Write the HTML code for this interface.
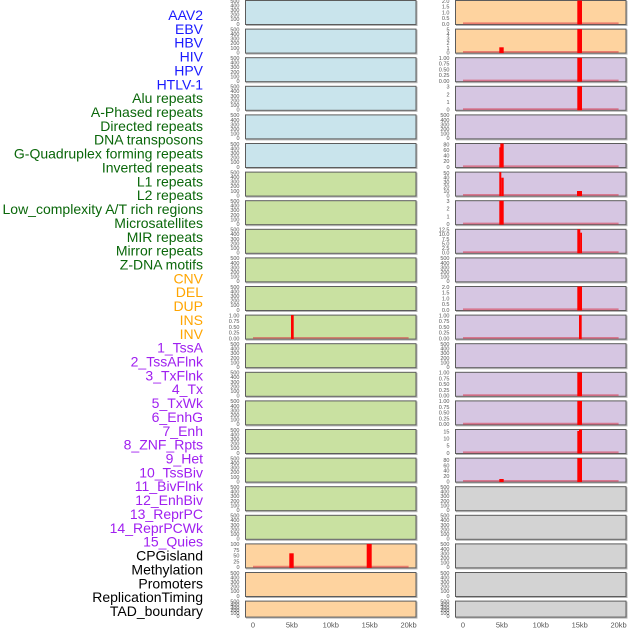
<!DOCTYPE html>
<html><head><meta charset="utf-8"><style>
html,body{margin:0;padding:0;background:#fff;width:630px;height:630px;overflow:hidden}
svg{display:block}
.p text{font-family:"Liberation Sans",sans-serif;font-size:5.5px;fill:#555;text-anchor:end}
.p .s{fill:none;stroke:#b4b4b4;stroke-width:1}
.p .r{stroke:#5c5c5c;stroke-width:1}
.p .bl{stroke:rgba(215,40,60,0.5);stroke-width:1.8;fill:none}
.p .bar{fill:#ff0000}
.lab text{font-family:"Liberation Sans",sans-serif;font-size:14px;text-anchor:end}
.xt text{font-family:"Liberation Sans",sans-serif;font-size:7.5px;fill:#555;text-anchor:middle}
</style></head><body>
<svg width="630" height="630" viewBox="0 0 630 630" xmlns="http://www.w3.org/2000/svg">
<g class="lab">
<text x="203" y="20" fill="#1a1aff">AAV2</text>
<text x="203" y="33.86" fill="#1a1aff">EBV</text>
<text x="203" y="47.72" fill="#1a1aff">HBV</text>
<text x="203" y="61.58" fill="#1a1aff">HIV</text>
<text x="203" y="75.44" fill="#1a1aff">HPV</text>
<text x="203" y="89.3" fill="#1a1aff">HTLV-1</text>
<text x="203" y="103.16" fill="#0a670a">Alu repeats</text>
<text x="203" y="117.02" fill="#0a670a">A-Phased repeats</text>
<text x="203" y="130.88" fill="#0a670a">Directed repeats</text>
<text x="203" y="144.74" fill="#0a670a">DNA transposons</text>
<text x="203" y="158.6" fill="#0a670a">G-Quadruplex forming repeats</text>
<text x="203" y="172.46" fill="#0a670a">Inverted repeats</text>
<text x="203" y="186.32" fill="#0a670a">L1 repeats</text>
<text x="203" y="200.18" fill="#0a670a">L2 repeats</text>
<text x="203" y="214.04" fill="#0a670a">Low_complexity A/T rich regions</text>
<text x="203" y="227.9" fill="#0a670a">Microsatellites</text>
<text x="203" y="241.76" fill="#0a670a">MIR repeats</text>
<text x="203" y="255.62" fill="#0a670a">Mirror repeats</text>
<text x="203" y="269.48" fill="#0a670a">Z-DNA motifs</text>
<text x="203" y="283.34" fill="#ffa500">CNV</text>
<text x="203" y="297.2" fill="#ffa500">DEL</text>
<text x="203" y="311.06" fill="#ffa500">DUP</text>
<text x="203" y="324.92" fill="#ffa500">INS</text>
<text x="203" y="338.78" fill="#ffa500">INV</text>
<text x="203" y="352.64" fill="#a020f0">1_TssA</text>
<text x="203" y="366.5" fill="#a020f0">2_TssAFlnk</text>
<text x="203" y="380.36" fill="#a020f0">3_TxFlnk</text>
<text x="203" y="394.22" fill="#a020f0">4_Tx</text>
<text x="203" y="408.08" fill="#a020f0">5_TxWk</text>
<text x="203" y="421.94" fill="#a020f0">6_EnhG</text>
<text x="203" y="435.8" fill="#a020f0">7_Enh</text>
<text x="203" y="449.66" fill="#a020f0">8_ZNF_Rpts</text>
<text x="203" y="463.52" fill="#a020f0">9_Het</text>
<text x="203" y="477.38" fill="#a020f0">10_TssBiv</text>
<text x="203" y="491.24" fill="#a020f0">11_BivFlnk</text>
<text x="203" y="505.1" fill="#a020f0">12_EnhBiv</text>
<text x="203" y="518.96" fill="#a020f0">13_ReprPC</text>
<text x="203" y="532.82" fill="#a020f0">14_ReprPCWk</text>
<text x="203" y="546.68" fill="#a020f0">15_Quies</text>
<text x="203" y="560.54" fill="#000">CPGisland</text>
<text x="203" y="574.4" fill="#000">Methylation</text>
<text x="203" y="588.26" fill="#000">Promoters</text>
<text x="203" y="602.12" fill="#000">ReplicationTiming</text>
<text x="203" y="615.98" fill="#000">TAD_boundary</text>
</g>

<!-- LEFT COLUMN -->
<g class="p" transform="translate(245,0)"><rect class="s" x="1.5" y="1.5" width="170.5" height="24"/><rect class="r" x="0.5" y="0.5" width="170.5" height="24" fill="#c9e4ec"/><text x="-5.5" y="25.8">0</text><text x="-5.5" y="21.2">100</text><text x="-5.5" y="16.6">200</text><text x="-5.5" y="12">300</text><text x="-5.5" y="7.4">400</text><text x="-5.5" y="2.8">500</text></g>
<g class="p" transform="translate(245,28.6)"><rect class="s" x="1.5" y="1.5" width="170.5" height="24"/><rect class="r" x="0.5" y="0.5" width="170.5" height="24" fill="#c9e4ec"/><text x="-5.5" y="25.8">0</text><text x="-5.5" y="21.2">100</text><text x="-5.5" y="16.6">200</text><text x="-5.5" y="12">300</text><text x="-5.5" y="7.4">400</text><text x="-5.5" y="2.8">500</text></g>
<g class="p" transform="translate(245,57.2)"><rect class="s" x="1.5" y="1.5" width="170.5" height="24"/><rect class="r" x="0.5" y="0.5" width="170.5" height="24" fill="#c9e4ec"/><text x="-5.5" y="25.8">0</text><text x="-5.5" y="21.2">100</text><text x="-5.5" y="16.6">200</text><text x="-5.5" y="12">300</text><text x="-5.5" y="7.4">400</text><text x="-5.5" y="2.8">500</text></g>
<g class="p" transform="translate(245,85.8)"><rect class="s" x="1.5" y="1.5" width="170.5" height="24"/><rect class="r" x="0.5" y="0.5" width="170.5" height="24" fill="#c9e4ec"/><text x="-5.5" y="25.8">0</text><text x="-5.5" y="21.2">100</text><text x="-5.5" y="16.6">200</text><text x="-5.5" y="12">300</text><text x="-5.5" y="7.4">400</text><text x="-5.5" y="2.8">500</text></g>
<g class="p" transform="translate(245,114.4)"><rect class="s" x="1.5" y="1.5" width="170.5" height="24"/><rect class="r" x="0.5" y="0.5" width="170.5" height="24" fill="#c9e4ec"/><text x="-5.5" y="25.8">0</text><text x="-5.5" y="21.2">100</text><text x="-5.5" y="16.6">200</text><text x="-5.5" y="12">300</text><text x="-5.5" y="7.4">400</text><text x="-5.5" y="2.8">500</text></g>
<g class="p" transform="translate(245,143)"><rect class="s" x="1.5" y="1.5" width="170.5" height="24"/><rect class="r" x="0.5" y="0.5" width="170.5" height="24" fill="#c9e4ec"/><text x="-5.5" y="25.8">0</text><text x="-5.5" y="21.2">100</text><text x="-5.5" y="16.6">200</text><text x="-5.5" y="12">300</text><text x="-5.5" y="7.4">400</text><text x="-5.5" y="2.8">500</text></g>
<g class="p" transform="translate(245,171.6)"><rect class="s" x="1.5" y="1.5" width="170.5" height="24"/><rect class="r" x="0.5" y="0.5" width="170.5" height="24" fill="#c9e1a1"/><text x="-5.5" y="25.8">0</text><text x="-5.5" y="21.2">100</text><text x="-5.5" y="16.6">200</text><text x="-5.5" y="12">300</text><text x="-5.5" y="7.4">400</text><text x="-5.5" y="2.8">500</text></g>
<g class="p" transform="translate(245,200.2)"><rect class="s" x="1.5" y="1.5" width="170.5" height="24"/><rect class="r" x="0.5" y="0.5" width="170.5" height="24" fill="#c9e1a1"/><text x="-5.5" y="25.8">0</text><text x="-5.5" y="21.2">100</text><text x="-5.5" y="16.6">200</text><text x="-5.5" y="12">300</text><text x="-5.5" y="7.4">400</text><text x="-5.5" y="2.8">500</text></g>
<g class="p" transform="translate(245,228.8)"><rect class="s" x="1.5" y="1.5" width="170.5" height="24"/><rect class="r" x="0.5" y="0.5" width="170.5" height="24" fill="#c9e1a1"/><text x="-5.5" y="25.8">0</text><text x="-5.5" y="21.2">100</text><text x="-5.5" y="16.6">200</text><text x="-5.5" y="12">300</text><text x="-5.5" y="7.4">400</text><text x="-5.5" y="2.8">500</text></g>
<g class="p" transform="translate(245,257.4)"><rect class="s" x="1.5" y="1.5" width="170.5" height="24"/><rect class="r" x="0.5" y="0.5" width="170.5" height="24" fill="#c9e1a1"/><text x="-5.5" y="25.8">0</text><text x="-5.5" y="21.2">100</text><text x="-5.5" y="16.6">200</text><text x="-5.5" y="12">300</text><text x="-5.5" y="7.4">400</text><text x="-5.5" y="2.8">500</text></g>
<g class="p" transform="translate(245,286)"><rect class="s" x="1.5" y="1.5" width="170.5" height="24"/><rect class="r" x="0.5" y="0.5" width="170.5" height="24" fill="#c9e1a1"/><text x="-5.5" y="25.8">0</text><text x="-5.5" y="21.2">100</text><text x="-5.5" y="16.6">200</text><text x="-5.5" y="12">300</text><text x="-5.5" y="7.4">400</text><text x="-5.5" y="2.8">500</text></g>
<g class="p" transform="translate(245,314.6)"><rect class="s" x="1.5" y="1.5" width="170.5" height="24"/><rect class="r" x="0.5" y="0.5" width="170.5" height="24" fill="#c9e1a1"/><text x="-5.5" y="25.8">0.00</text><text x="-5.5" y="20.05">0.25</text><text x="-5.5" y="14.3">0.50</text><text x="-5.5" y="8.55">0.75</text><text x="-5.5" y="2.8">1.00</text><path class="bl" d="M8 23.3H163.6"/><rect class="bar" x="46" y="0.5" width="2.7" height="24"/></g>
<g class="p" transform="translate(245,343.2)"><rect class="s" x="1.5" y="1.5" width="170.5" height="24"/><rect class="r" x="0.5" y="0.5" width="170.5" height="24" fill="#c9e1a1"/><text x="-5.5" y="25.8">0</text><text x="-5.5" y="21.2">100</text><text x="-5.5" y="16.6">200</text><text x="-5.5" y="12">300</text><text x="-5.5" y="7.4">400</text><text x="-5.5" y="2.8">500</text></g>
<g class="p" transform="translate(245,371.8)"><rect class="s" x="1.5" y="1.5" width="170.5" height="24"/><rect class="r" x="0.5" y="0.5" width="170.5" height="24" fill="#c9e1a1"/><text x="-5.5" y="25.8">0</text><text x="-5.5" y="21.2">100</text><text x="-5.5" y="16.6">200</text><text x="-5.5" y="12">300</text><text x="-5.5" y="7.4">400</text><text x="-5.5" y="2.8">500</text></g>
<g class="p" transform="translate(245,400.4)"><rect class="s" x="1.5" y="1.5" width="170.5" height="24"/><rect class="r" x="0.5" y="0.5" width="170.5" height="24" fill="#c9e1a1"/><text x="-5.5" y="25.8">0</text><text x="-5.5" y="21.2">100</text><text x="-5.5" y="16.6">200</text><text x="-5.5" y="12">300</text><text x="-5.5" y="7.4">400</text><text x="-5.5" y="2.8">500</text></g>
<g class="p" transform="translate(245,429)"><rect class="s" x="1.5" y="1.5" width="170.5" height="24"/><rect class="r" x="0.5" y="0.5" width="170.5" height="24" fill="#c9e1a1"/><text x="-5.5" y="25.8">0</text><text x="-5.5" y="21.2">100</text><text x="-5.5" y="16.6">200</text><text x="-5.5" y="12">300</text><text x="-5.5" y="7.4">400</text><text x="-5.5" y="2.8">500</text></g>
<g class="p" transform="translate(245,457.6)"><rect class="s" x="1.5" y="1.5" width="170.5" height="24"/><rect class="r" x="0.5" y="0.5" width="170.5" height="24" fill="#c9e1a1"/><text x="-5.5" y="25.8">0</text><text x="-5.5" y="21.2">100</text><text x="-5.5" y="16.6">200</text><text x="-5.5" y="12">300</text><text x="-5.5" y="7.4">400</text><text x="-5.5" y="2.8">500</text></g>
<g class="p" transform="translate(245,486.2)"><rect class="s" x="1.5" y="1.5" width="170.5" height="24"/><rect class="r" x="0.5" y="0.5" width="170.5" height="24" fill="#c9e1a1"/><text x="-5.5" y="25.8">0</text><text x="-5.5" y="21.2">100</text><text x="-5.5" y="16.6">200</text><text x="-5.5" y="12">300</text><text x="-5.5" y="7.4">400</text><text x="-5.5" y="2.8">500</text></g>
<g class="p" transform="translate(245,514.8)"><rect class="s" x="1.5" y="1.5" width="170.5" height="24"/><rect class="r" x="0.5" y="0.5" width="170.5" height="24" fill="#c9e1a1"/><text x="-5.5" y="25.8">0</text><text x="-5.5" y="21.2">100</text><text x="-5.5" y="16.6">200</text><text x="-5.5" y="12">300</text><text x="-5.5" y="7.4">400</text><text x="-5.5" y="2.8">500</text></g>
<g class="p" transform="translate(245,543.4)"><rect class="s" x="1.5" y="1.5" width="170.5" height="24"/><rect class="r" x="0.5" y="0.5" width="170.5" height="24" fill="#fed39f"/><text x="-5.5" y="25.8">0</text><text x="-5.5" y="20.05">25</text><text x="-5.5" y="14.3">50</text><text x="-5.5" y="8.55">75</text><text x="-5.5" y="2.8">100</text><path class="bl" d="M8 23.3H163.6"/><rect class="bar" x="44.3" y="9.9" width="4.4" height="14.6"/><rect class="bar" x="121.7" y="0.5" width="5" height="24"/></g>
<g class="p" transform="translate(245,572)"><rect class="s" x="1.5" y="1.5" width="170.5" height="24"/><rect class="r" x="0.5" y="0.5" width="170.5" height="24" fill="#fed39f"/><text x="-5.5" y="25.8">0</text><text x="-5.5" y="21.2">100</text><text x="-5.5" y="16.6">200</text><text x="-5.5" y="12">300</text><text x="-5.5" y="7.4">400</text><text x="-5.5" y="2.8">500</text></g>
<g class="p" transform="translate(245,600.6)"><rect class="s" x="1.5" y="1.5" width="170.5" height="16"/><rect class="r" x="0.5" y="0.5" width="170.5" height="16" fill="#fed39f"/><text x="-5.5" y="17.4">0</text><text x="-5.5" y="14.5">100</text><text x="-5.5" y="11.6">200</text><text x="-5.5" y="8.7">300</text><text x="-5.5" y="5.7">400</text><text x="-5.5" y="2.8">500</text></g>

<!-- RIGHT COLUMN -->
<g class="p" transform="translate(455,0)"><rect class="s" x="1.5" y="1.5" width="170.5" height="24"/><rect class="r" x="0.5" y="0.5" width="170.5" height="24" fill="#fed39f"/><text x="-5.5" y="25.8">0.0</text><text x="-5.5" y="20.05">0.5</text><text x="-5.5" y="14.3">1.0</text><text x="-5.5" y="8.55">1.5</text><text x="-5.5" y="2.8">2.0</text><path class="bl" d="M8 23.3H163.6"/><rect class="bar" x="122.3" y="0.5" width="4.7" height="24"/></g>
<g class="p" transform="translate(455,28.6)"><rect class="s" x="1.5" y="1.5" width="170.5" height="24"/><rect class="r" x="0.5" y="0.5" width="170.5" height="24" fill="#fed39f"/><text x="-5.5" y="25.8">0</text><text x="-5.5" y="21.2">1</text><text x="-5.5" y="16.6">2</text><text x="-5.5" y="12">3</text><text x="-5.5" y="7.4">4</text><text x="-5.5" y="2.8">5</text><path class="bl" d="M8 23.3H163.6"/><rect class="bar" x="44.3" y="18.7" width="4.4" height="5.8"/><rect class="bar" x="122.3" y="0.5" width="4.7" height="24"/></g>
<g class="p" transform="translate(455,57.2)"><rect class="s" x="1.5" y="1.5" width="170.5" height="24"/><rect class="r" x="0.5" y="0.5" width="170.5" height="24" fill="#d6c6e2"/><text x="-5.5" y="25.8">0.00</text><text x="-5.5" y="20.05">0.25</text><text x="-5.5" y="14.3">0.50</text><text x="-5.5" y="8.55">0.75</text><text x="-5.5" y="2.8">1.00</text><path class="bl" d="M8 23.3H163.6"/><rect class="bar" x="122.3" y="0.5" width="4.7" height="24"/></g>
<g class="p" transform="translate(455,85.8)"><rect class="s" x="1.5" y="1.5" width="170.5" height="24"/><rect class="r" x="0.5" y="0.5" width="170.5" height="24" fill="#d6c6e2"/><text x="-5.5" y="25.8">0</text><text x="-5.5" y="18.13">1</text><text x="-5.5" y="10.47">2</text><text x="-5.5" y="2.8">3</text><path class="bl" d="M8 23.3H163.6"/><rect class="bar" x="122.3" y="0.5" width="4.7" height="24"/></g>
<g class="p" transform="translate(455,114.4)"><rect class="s" x="1.5" y="1.5" width="170.5" height="24"/><rect class="r" x="0.5" y="0.5" width="170.5" height="24" fill="#d6c6e2"/><text x="-5.5" y="25.8">0</text><text x="-5.5" y="21.2">100</text><text x="-5.5" y="16.6">200</text><text x="-5.5" y="12">300</text><text x="-5.5" y="7.4">400</text><text x="-5.5" y="2.8">500</text></g>
<g class="p" transform="translate(455,143)"><rect class="s" x="1.5" y="1.5" width="170.5" height="24"/><rect class="r" x="0.5" y="0.5" width="170.5" height="24" fill="#d6c6e2"/><text x="-5.5" y="25.8">0</text><text x="-5.5" y="20.2">20</text><text x="-5.5" y="14.6">40</text><text x="-5.5" y="9">60</text><text x="-5.5" y="3.4">80</text><path class="bl" d="M8 23.3H163.6"/><rect class="bar" x="44.3" y="4.3" width="1.2" height="20.2"/><rect class="bar" x="45.3" y="0.5" width="3.4" height="24"/></g>
<g class="p" transform="translate(455,171.6)"><rect class="s" x="1.5" y="1.5" width="170.5" height="24"/><rect class="r" x="0.5" y="0.5" width="170.5" height="24" fill="#d6c6e2"/><text x="-5.5" y="25.8">0</text><text x="-5.5" y="21.3">10</text><text x="-5.5" y="16.8">20</text><text x="-5.5" y="12.3">30</text><text x="-5.5" y="7.8">40</text><text x="-5.5" y="3.3">50</text><path class="bl" d="M8 23.3H163.6"/><rect class="bar" x="44.3" y="0.5" width="2" height="24"/><rect class="bar" x="46.3" y="6.1" width="2.4" height="18.4"/><rect class="bar" x="122" y="19.4" width="5" height="5.1"/></g>
<g class="p" transform="translate(455,200.2)"><rect class="s" x="1.5" y="1.5" width="170.5" height="24"/><rect class="r" x="0.5" y="0.5" width="170.5" height="24" fill="#d6c6e2"/><text x="-5.5" y="25.8">0</text><text x="-5.5" y="18.13">1</text><text x="-5.5" y="10.47">2</text><text x="-5.5" y="2.8">3</text><path class="bl" d="M8 23.3H163.6"/><rect class="bar" x="44.3" y="0.5" width="4.4" height="24"/></g>
<g class="p" transform="translate(455,228.8)"><rect class="s" x="1.5" y="1.5" width="170.5" height="24"/><rect class="r" x="0.5" y="0.5" width="170.5" height="24" fill="#d6c6e2"/><text x="-5.5" y="25.8">0.0</text><text x="-5.5" y="21.2">2.5</text><text x="-5.5" y="16.6">5.0</text><text x="-5.5" y="12">7.5</text><text x="-5.5" y="7.4">10.0</text><text x="-5.5" y="2.8">12.5</text><path class="bl" d="M8 23.3H163.6"/><rect class="bar" x="122.3" y="0.5" width="3" height="24"/><rect class="bar" x="125.2" y="3.9" width="1.8" height="20.6"/></g>
<g class="p" transform="translate(455,257.4)"><rect class="s" x="1.5" y="1.5" width="170.5" height="24"/><rect class="r" x="0.5" y="0.5" width="170.5" height="24" fill="#d6c6e2"/><text x="-5.5" y="25.8">0</text><text x="-5.5" y="21.2">100</text><text x="-5.5" y="16.6">200</text><text x="-5.5" y="12">300</text><text x="-5.5" y="7.4">400</text><text x="-5.5" y="2.8">500</text></g>
<g class="p" transform="translate(455,286)"><rect class="s" x="1.5" y="1.5" width="170.5" height="24"/><rect class="r" x="0.5" y="0.5" width="170.5" height="24" fill="#d6c6e2"/><text x="-5.5" y="25.8">0.0</text><text x="-5.5" y="20.05">0.5</text><text x="-5.5" y="14.3">1.0</text><text x="-5.5" y="8.55">1.5</text><text x="-5.5" y="2.8">2.0</text><path class="bl" d="M8 23.3H163.6"/><rect class="bar" x="122.3" y="0.5" width="4.7" height="24"/></g>
<g class="p" transform="translate(455,314.6)"><rect class="s" x="1.5" y="1.5" width="170.5" height="24"/><rect class="r" x="0.5" y="0.5" width="170.5" height="24" fill="#d6c6e2"/><text x="-5.5" y="25.8">0.00</text><text x="-5.5" y="20.05">0.25</text><text x="-5.5" y="14.3">0.50</text><text x="-5.5" y="8.55">0.75</text><text x="-5.5" y="2.8">1.00</text><path class="bl" d="M8 23.3H163.6"/><rect class="bar" x="124" y="0.5" width="2.7" height="24"/></g>
<g class="p" transform="translate(455,343.2)"><rect class="s" x="1.5" y="1.5" width="170.5" height="24"/><rect class="r" x="0.5" y="0.5" width="170.5" height="24" fill="#d6c6e2"/><text x="-5.5" y="25.8">0</text><text x="-5.5" y="21.2">100</text><text x="-5.5" y="16.6">200</text><text x="-5.5" y="12">300</text><text x="-5.5" y="7.4">400</text><text x="-5.5" y="2.8">500</text></g>
<g class="p" transform="translate(455,371.8)"><rect class="s" x="1.5" y="1.5" width="170.5" height="24"/><rect class="r" x="0.5" y="0.5" width="170.5" height="24" fill="#d6c6e2"/><text x="-5.5" y="25.8">0.00</text><text x="-5.5" y="20.05">0.25</text><text x="-5.5" y="14.3">0.50</text><text x="-5.5" y="8.55">0.75</text><text x="-5.5" y="2.8">1.00</text><path class="bl" d="M8 23.3H163.6"/><rect class="bar" x="122.3" y="0.5" width="4.7" height="24"/></g>
<g class="p" transform="translate(455,400.4)"><rect class="s" x="1.5" y="1.5" width="170.5" height="24"/><rect class="r" x="0.5" y="0.5" width="170.5" height="24" fill="#d6c6e2"/><text x="-5.5" y="25.8">0.00</text><text x="-5.5" y="20.05">0.25</text><text x="-5.5" y="14.3">0.50</text><text x="-5.5" y="8.55">0.75</text><text x="-5.5" y="2.8">1.00</text><path class="bl" d="M8 23.3H163.6"/><rect class="bar" x="122.3" y="0.5" width="4.7" height="24"/></g>
<g class="p" transform="translate(455,429)"><rect class="s" x="1.5" y="1.5" width="170.5" height="24"/><rect class="r" x="0.5" y="0.5" width="170.5" height="24" fill="#d6c6e2"/><text x="-5.5" y="25.8">0</text><text x="-5.5" y="18.7">5</text><text x="-5.5" y="11.7">10</text><text x="-5.5" y="4.6">15</text><path class="bl" d="M8 23.3H163.6"/><rect class="bar" x="122.3" y="2" width="1.8" height="22.5"/><rect class="bar" x="124" y="0.5" width="3" height="24"/></g>
<g class="p" transform="translate(455,457.6)"><rect class="s" x="1.5" y="1.5" width="170.5" height="24"/><rect class="r" x="0.5" y="0.5" width="170.5" height="24" fill="#d6c6e2"/><text x="-5.5" y="25.8">0</text><text x="-5.5" y="20.4">20</text><text x="-5.5" y="15.1">40</text><text x="-5.5" y="9.7">60</text><text x="-5.5" y="4.3">80</text><path class="bl" d="M8 23.3H163.6"/><rect class="bar" x="44.3" y="21.4" width="4.4" height="3.1"/><rect class="bar" x="122.3" y="0.5" width="4.7" height="24"/></g>
<g class="p" transform="translate(455,486.2)"><rect class="s" x="1.5" y="1.5" width="170.5" height="24"/><rect class="r" x="0.5" y="0.5" width="170.5" height="24" fill="#d3d3d3"/><text x="-5.5" y="25.8">0</text><text x="-5.5" y="21.2">100</text><text x="-5.5" y="16.6">200</text><text x="-5.5" y="12">300</text><text x="-5.5" y="7.4">400</text><text x="-5.5" y="2.8">500</text></g>
<g class="p" transform="translate(455,514.8)"><rect class="s" x="1.5" y="1.5" width="170.5" height="24"/><rect class="r" x="0.5" y="0.5" width="170.5" height="24" fill="#d3d3d3"/><text x="-5.5" y="25.8">0</text><text x="-5.5" y="21.2">100</text><text x="-5.5" y="16.6">200</text><text x="-5.5" y="12">300</text><text x="-5.5" y="7.4">400</text><text x="-5.5" y="2.8">500</text></g>
<g class="p" transform="translate(455,543.4)"><rect class="s" x="1.5" y="1.5" width="170.5" height="24"/><rect class="r" x="0.5" y="0.5" width="170.5" height="24" fill="#d3d3d3"/><text x="-5.5" y="25.8">0</text><text x="-5.5" y="21.2">100</text><text x="-5.5" y="16.6">200</text><text x="-5.5" y="12">300</text><text x="-5.5" y="7.4">400</text><text x="-5.5" y="2.8">500</text></g>
<g class="p" transform="translate(455,572)"><rect class="s" x="1.5" y="1.5" width="170.5" height="24"/><rect class="r" x="0.5" y="0.5" width="170.5" height="24" fill="#d3d3d3"/><text x="-5.5" y="25.8">0</text><text x="-5.5" y="21.2">100</text><text x="-5.5" y="16.6">200</text><text x="-5.5" y="12">300</text><text x="-5.5" y="7.4">400</text><text x="-5.5" y="2.8">500</text></g>
<g class="p" transform="translate(455,600.6)"><rect class="s" x="1.5" y="1.5" width="170.5" height="16"/><rect class="r" x="0.5" y="0.5" width="170.5" height="16" fill="#d3d3d3"/><text x="-5.5" y="17.4">0</text><text x="-5.5" y="14.5">100</text><text x="-5.5" y="11.6">200</text><text x="-5.5" y="8.7">300</text><text x="-5.5" y="5.7">400</text><text x="-5.5" y="2.8">500</text></g>

<g class="xt">
<text x="253" y="627.5">0</text>
<text x="291.9" y="627.5">5kb</text>
<text x="330.8" y="627.5">10kb</text>
<text x="369.7" y="627.5">15kb</text>
<text x="408.6" y="627.5">20kb</text>
<text x="463" y="627.5">0</text>
<text x="501.9" y="627.5">5kb</text>
<text x="540.8" y="627.5">10kb</text>
<text x="579.7" y="627.5">15kb</text>
<text x="618.6" y="627.5">20kb</text>
</g>
</svg>
</body></html>
